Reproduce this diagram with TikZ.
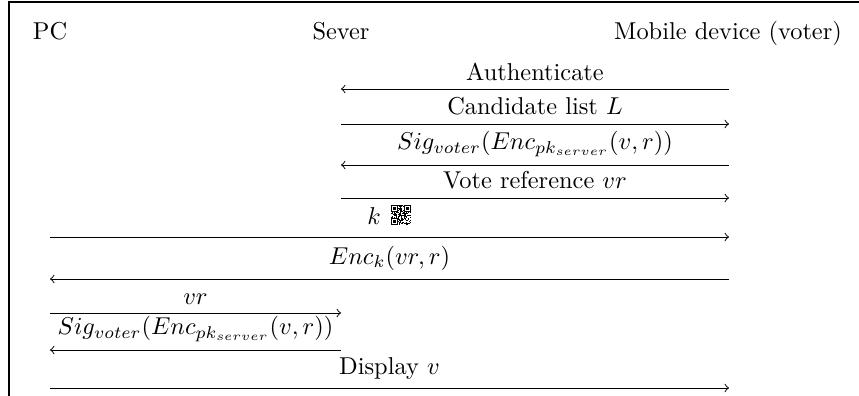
\documentclass[tikz,border=0pt]{standalone}
\begin{document}
\begin{tikzpicture}[x=0.41pt,y=-0.41pt,
  msg/.style={draw,line width=0.4pt,->},
  head/.style={anchor=base,inner sep=0pt},
  frameline/.style={line width=0.5pt}]
\useasboundingbox (0,0) rectangle (859,396);
% surrounding frame (top and left edges)
\draw[frameline] (9,396) |- (859,2);

% participants
\node[head] (pc) at (50,40) {PC};
\node[head] (sv) at (341,40) {Sever};
\node[head] (mb) at (728,40) {Mobile device (voter)};

% message rows: lifeline points at each height
\foreach \n/\y in {1/89,2/124,3/165,4/198,5/237,6/279,7/313,8/350,9/388}{
  \coordinate (pc\n) at (50,\y);
  \coordinate (sv\n) at (341,\y);
  \coordinate (mb\n) at (729,\y);
}

% messages between server and mobile device
\draw[msg] (mb1) -- (sv1) node[midway,above] {Authenticate};
\draw[msg] (sv2) -- (mb2) node[midway,above] {Candidate list $L$};
\draw[msg] (mb3) -- (sv3) node[midway,above] {$Sig_{voter}(Enc_{pk_{server}}(v,r))$};
\draw[msg] (sv4) -- (mb4) node[midway,above] {Vote reference $vr$};

% key transfer from PC to mobile device via QR code
\draw[msg] (pc5) -- (mb5);
\node[head] (klbl) at (374,225) {$k$};
\coordinate (qr) at (391,205);
\begin{scope}[shift={(qr)}]
  \pgfmathsetseed{4711}
  \def\m{0.9524}
  \foreach \i in {0,...,20}{
    \foreach \j in {0,...,20}{
      \pgfmathtruncatemacro\bit{rnd<0.5}
      \ifnum\bit=1
        \fill (\i*\m,\j*\m) rectangle ++(\m+0.05,\m+0.05);
      \fi
    }
  }
  % finder patterns
  \foreach \fx/\fy in {0/0,14/0,0/14}{
    \fill[white] (\fx*\m-0.5,\fy*\m-0.5) rectangle ++(8*\m,8*\m);
    \fill (\fx*\m,\fy*\m) rectangle ++(7*\m,7*\m);
    \fill[white] (\fx*\m+\m,\fy*\m+\m) rectangle ++(5*\m,5*\m);
    \fill (\fx*\m+2*\m,\fy*\m+2*\m) rectangle ++(3*\m,3*\m);
  }
\end{scope}

\draw[msg] (mb6) -- (pc6) node[midway,above] {$Enc_k(vr,r)$};

% messages between PC and server
\draw[msg] (pc7) -- (sv7) node[midway,above] {$vr$};
\draw[msg] (sv8) -- (pc8) node[midway,above] {$Sig_{voter}(Enc_{pk_{server}}(v,r))$};

% final display on the PC side
\draw[msg] (pc9) -- (mb9) node[midway,above] {Display $v$};
\end{tikzpicture}
\end{document}
